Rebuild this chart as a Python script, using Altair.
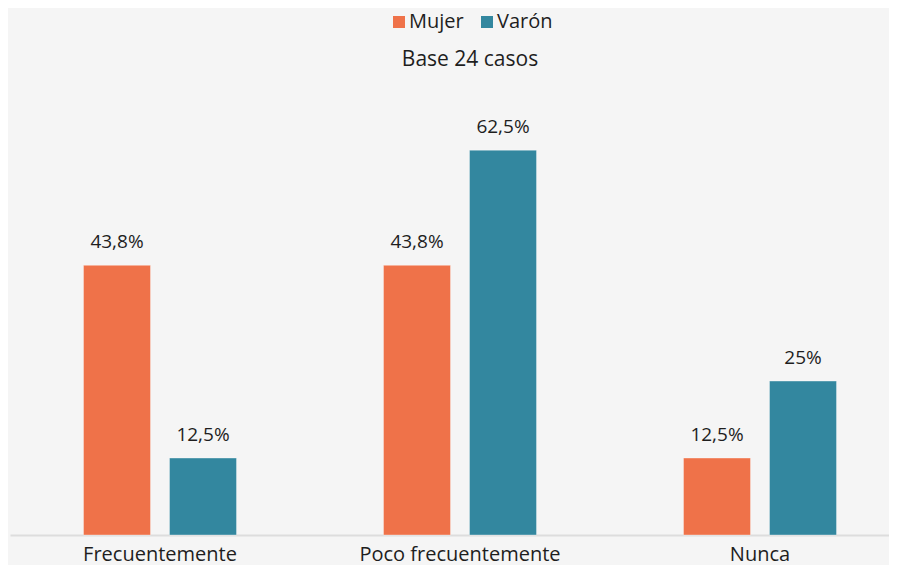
import altair as alt
import pandas as pd

categories = ["Frecuentemente", "Poco frecuentemente", "Nunca"]
series = ["Mujer", "Varón"]
mujer = [43.8, 43.8, 12.5]
varon = [12.5, 62.5, 25.0]
colors = ["#EF7249", "#33879F"]
subtitle = "Base 24 casos"

rows = []
for c, m, v in zip(categories, mujer, varon):
    rows.append({"cat": c, "serie": "Mujer", "val": m,
                 "lab": (f"{m:g}".replace(".", ",")) + "%"})
    rows.append({"cat": c, "serie": "Varón", "val": v,
                 "lab": (f"{v:g}".replace(".", ",")) + "%"})
df = pd.DataFrame(rows)

FONT = "Open Sans"
TXT = "#1e1e1e"
W, H = 879, 431

x = alt.X("cat:N", sort=categories, title=None,
          scale=alt.Scale(range=[0, 900], paddingInner=0, paddingOuter=0),
          axis=alt.Axis(labelAngle=0, ticks=False, domainColor="#dddddd",
                        domainWidth=2, labelFontSize=20, labelFont=FONT,
                        labelColor=TXT, labelPadding=9, labelLimit=0, grid=False))
xoff = alt.XOffset("serie:N", sort=series,
                   scale=alt.Scale(paddingInner=0.2209, paddingOuter=0.8545))
y = alt.Y("val:Q", scale=alt.Scale(domain=[0, 70]), axis=None)

bars = alt.Chart(df).mark_bar(stroke="white", strokeOpacity=0.35, strokeWidth=1).encode(
    x=x, xOffset=xoff, y=y,
    color=alt.Color("serie:N", sort=series,
                    scale=alt.Scale(domain=series, range=colors),
                    legend=alt.Legend(title=None, orient="none", direction="horizontal",
                                      legendX=379, legendY=-92, symbolType="square",
                                      symbolSize=144, symbolStrokeWidth=0,
                                      labelFontSize=20, labelFont=FONT,
                                      labelColor=TXT, labelOffset=0,
                                      columnPadding=13, padding=0))
)

labels = alt.Chart(df).mark_text(fontSize=19, font=FONT, color=TXT,
                                 baseline="alphabetic", dy=-17).encode(
    x=x, xOffset=xoff, y=y, text="lab:N"
)

sub = alt.Chart(pd.DataFrame({"t": [subtitle]})).mark_text(
    fontSize=21, font=FONT, color=TXT, baseline="alphabetic"
).encode(text="t:N", x=alt.value(460), y=alt.value(-38))

chart = alt.layer(bars, labels, sub).properties(
    width=W, height=H,
    autosize=alt.AutoSizeParams(type="none"),
    padding={"left": 2, "top": 96, "right": 0, "bottom": 30},
    background="#f5f5f5",
).configure_view(stroke=None)

chart.save("out.html", embed_options={"renderer": "svg", "actions": False})
